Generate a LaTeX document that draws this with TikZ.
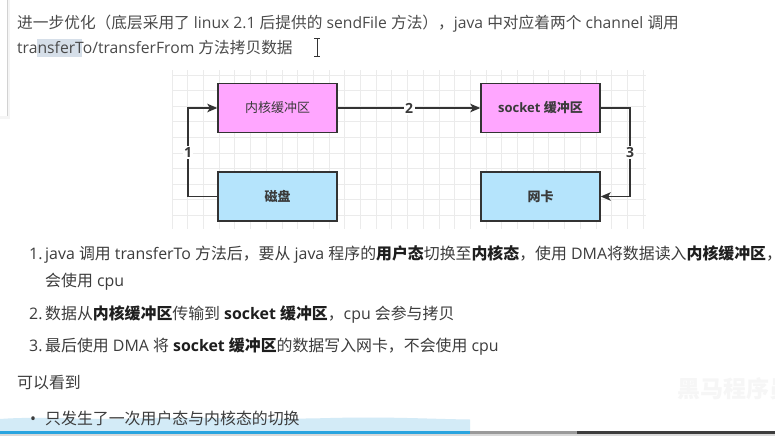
\documentclass[tikz,border=0pt]{standalone}
\usepackage{fontspec}
\setmainfont{Noto Sans CJK SC}
\newfontfamily\latf{Open Sans}
\usetikzlibrary{arrows.meta}
\definecolor{toptext}{HTML}{4A4A4A}
\definecolor{listtext}{HTML}{3C3C3C}
\definecolor{boldtext}{HTML}{1E1E1E}
\definecolor{boxline}{HTML}{333333}
\definecolor{labeltext}{HTML}{3A3A3A}
\definecolor{pinkf}{HTML}{FFA6FF}
\definecolor{bluef}{HTML}{B5E4FC}
\definecolor{gridl}{HTML}{EBEBEB}
\definecolor{hilite}{HTML}{D6DFE9}
\definecolor{panelline}{HTML}{D2D2D2}
\definecolor{bandblue}{HTML}{D3EBF7}
\definecolor{barblue}{HTML}{2AA4DF}
\definecolor{bargrey}{HTML}{9A9A9A}
\definecolor{bardark}{HTML}{3D3D3D}
\definecolor{barlight}{HTML}{D9D9D9}
\definecolor{wmark}{HTML}{F6F6F6}
\newcommand\Lt[1]{{\latf#1}}
\newcommand\Bd[1]{{\bfseries\color{boldtext}#1}}
\tikzset{
  toppara/.style={anchor=base west, inner sep=0pt, text=toptext, font=\fontsize{15.7}{18}\selectfont},
  listpara/.style={anchor=base west, inner sep=0pt, text=listtext, font=\fontsize{15.9}{18}\selectfont},
  listnum/.style={anchor=base west, inner sep=0pt, text=listtext, font=\latf\fontsize{15.9}{18}\selectfont},
  box/.style={draw=boxline, line width=1.4pt, minimum width=119pt, minimum height=49pt, inner sep=0pt, text=labeltext, font=\fontsize{13}{15}\selectfont},
  pinkbox/.style={box, fill=pinkf},
  bluebox/.style={box, fill=bluef},
  arr/.style={draw=boxline, line width=1.4pt, -{Stealth[length=10pt,width=8.5pt,inset=2.5pt]}},
  lbl/.style={fill=white, inner sep=1.5pt, text=labeltext, font=\latf\bfseries\fontsize{14}{16}\selectfont},
  gridline/.style={draw=gridl, line width=0.8pt},
}
\begin{document}
\begin{tikzpicture}[x=1pt,y=-1pt]
\clip (0,0) rectangle (775,436);
\fill[white] (0,0) rectangle (775,436);
% left panel edge
\fill[black!4] (7.5,0) rectangle (10,117);
\fill[black!4] (0,116) rectangle (10,119);
\draw[panelline, line width=1pt] (7,0) -- (7,116);
% top paragraph
\fill[hilite] (37,39) rectangle (82,57);
\node[toppara] (t1) at (17,28.5) {进一步优化（底层采用了\Lt{ linux 2.1 }后提供的\Lt{ sendFile }方法），\Lt{java }中对应着两个\Lt{ channel }调用};
\node[toppara] (t2) at (17,53.5) {\Lt{transferTo/transferFrom }方法拷贝数据};
% text cursor
\draw[boxline, line width=0.9pt] (317,38.5) -- (317,55.5);
\draw[boxline, line width=0.9pt] (314.2,38) -- (319.8,38);
\draw[boxline, line width=0.9pt] (314.2,56) -- (319.8,56);
% grid
\foreach \i in {0,...,30} { \draw[gridline] ({172+15.7*\i},70) -- ({172+15.7*\i},229); }
\foreach \j in {0,...,9} { \draw[gridline] (172,{75+15.6*\j}) -- (646,{75+15.6*\j}); }
% boxes
\node[pinkbox] (kbuf) at (277.5,108) {内核缓冲区};
\node[pinkbox] (sbuf) at (540.5,108) {\bfseries\Lt{socket }缓冲区};
\node[bluebox] (disk) at (277.5,196.5) {\bfseries 磁盘};
\node[bluebox] (nic) at (540.5,196.5) {\bfseries 网卡};
\coordinate (c1) at (188,0);
\coordinate (c3) at (630,0);
% connectors
\draw[arr] (disk.west) -- (disk.west -| c1) -- node[lbl] (l1) {1} (kbuf.west -| c1) -- (kbuf.west);
\draw[arr] (kbuf.east) -- node[lbl] (l2) {2} (sbuf.west);
\draw[arr] (sbuf.east) -- (sbuf.east -| c3) -- node[lbl] (l3) {3} (nic.east -| c3) -- (nic.east);
% bottom band
\fill[bandblue] (0,419) .. controls (40,416) and (80,420) .. (130,418.5) .. controls (200,416.5) and (260,420) .. (330,418) .. controls (390,416.5) and (430,419) .. (470,419.5) -- (470,431) -- (0,431) -- cycle;
% list
\node[listnum] (n1) at (29,259) {1.};
\node[listpara] (i1) at (45,259) {\Lt{java }调用\Lt{ transferTo }方法后，要从\Lt{ java }程序的\Bd{用户态}切换至\Bd{内核态}，使用\Lt{ DMA}将数据读入\Bd{内核缓冲区}，不};
\node[listpara] (i1b) at (45,286) {会使用\Lt{ cpu}};
\node[listnum] (n2) at (29,319) {2.};
\node[listpara] (i2) at (45,319) {数据从\Bd{内核缓冲区}传输到\Lt{ }\Bd{\Lt{socket }缓冲区}，\Lt{cpu }会参与拷贝};
\node[listnum] (n3) at (29,351) {3.};
\node[listpara] (i3) at (45,351) {最后使用\Lt{ DMA }将\Lt{ }\Bd{\Lt{socket }缓冲区}的数据写入网卡，不会使用\Lt{ cpu}};
\node[listpara] (see) at (17,388) {可以看到};
\node[listnum] (b1) at (30,424) {•};
\node[listpara] (i4) at (45,424) {只发生了一次用户态与内核态的切换};
% watermark
\node[anchor=base west, inner sep=0pt, text=wmark, font=\bfseries\fontsize{23}{25}\selectfont] (wm) at (677,397.5) {黑马程序员};
% progress bar
\fill[barblue] (0,431) rectangle (470,433.5);
\fill[bargrey] (470,431) rectangle (577,433.5);
\fill[bardark] (577,431) rectangle (775,433.5);
\fill[barlight] (0,433.5) rectangle (775,436);
\end{tikzpicture}
\end{document}
